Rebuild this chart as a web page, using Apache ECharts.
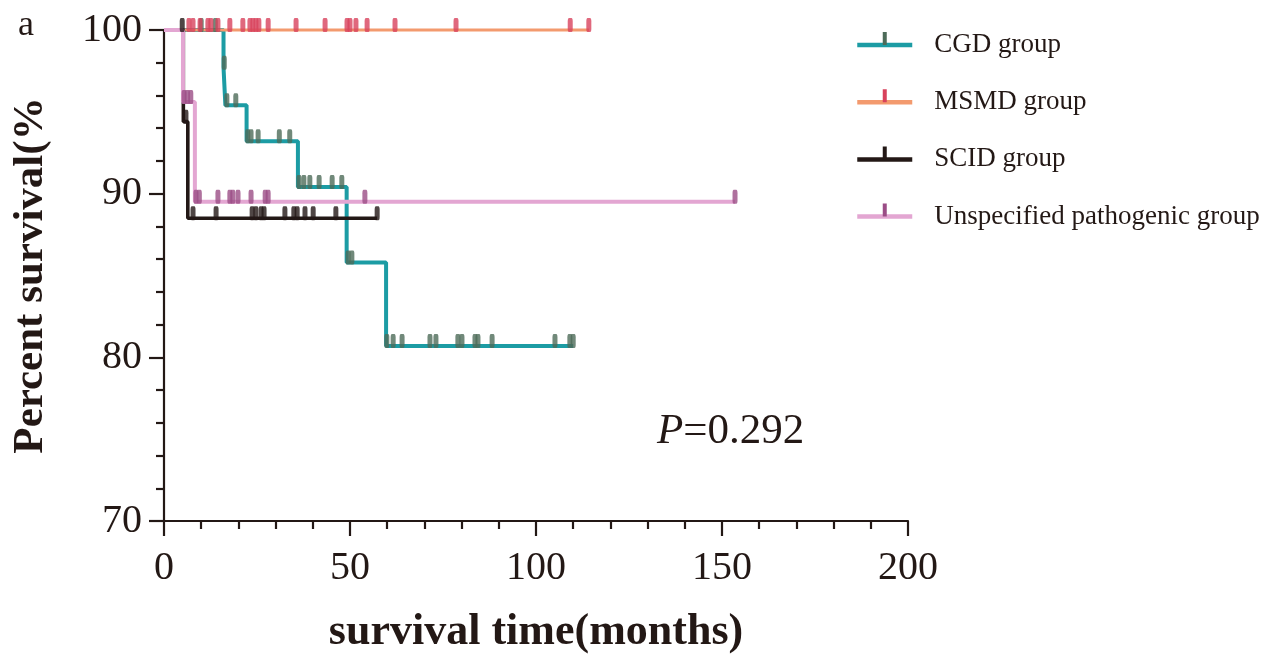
<!DOCTYPE html>
<html><head><meta charset="utf-8">
<script src="https://cdn.jsdelivr.net/npm/echarts@6/dist/echarts.min.js"></script>
<style>html,body{margin:0;padding:0;background:#fff}#c{width:1279px;height:660px}</style>
</head><body><div id="c"></div>
<script>
// ---- data ----
const groupNames = ['CGD group', 'MSMD group', 'SCID group', 'Unspecified pathogenic group'];
const xTickValues = [0, 50, 100, 150, 200];
const yTickValues = [70, 80, 90, 100];

// Kaplan-Meier steps: [months, percent survival]
const cgdSteps = [[0,100],[16,97.7],[16.5,95.4],[22.2,93.2],[36,90.4],[49.1,85.8],[59.7,80.7],[110,80.7]];
const msmdSteps = [[0,100],[114.3,100]];
const scidSteps = [[0,100],[5.2,94.4],[6.4,88.5],[57.3,88.5]];
const unspecSteps = [[0,100],[5.1,95.6],[8.3,89.5],[153.5,89.5]];

// censored observations: [months, percent survival]
const cgdCensor = [[10,100],[13.8,100],[16.2,97.7],[16.9,95.4],[19.3,95.4],[22.5,93.2],[23.4,93.2],[25.3,93.2],[31,93.2],[33.8,93.2],[36.3,90.4],[37.6,90.4],[39.2,90.4],[41.7,90.4],[45.2,90.4],[47.8,90.4],[49.5,85.8],[50.5,85.8],[59.9,80.7],[61.6,80.7],[64,80.7],[71.5,80.7],[73.1,80.7],[79,80.7],[80.1,80.7],[83.6,80.7],[84.4,80.7],[88.2,80.7],[105.1,80.7],[109.1,80.7],[110,80.7]];
const msmdCensor = [[6.7,100],[7.8,100],[9.7,100],[11.8,100],[12.6,100],[14.5,100],[17.7,100],[21.2,100],[23.1,100],[23.9,100],[24.7,100],[25.5,100],[28,100],[35.5,100],[43.3,100],[49.2,100],[50,100],[51.6,100],[54.6,100],[62.1,100],[78.5,100],[109.2,100],[114.2,100]];
const scidCensor = [[4.9,100],[5.9,94.4],[7.8,88.5],[14,88.5],[23.7,88.5],[24.7,88.5],[26.1,88.5],[26.9,88.5],[32.5,88.5],[34.9,88.5],[35.8,88.5],[37.9,88.5],[40.1,88.5],[46.2,88.5],[57.3,88.5]];
const unspecCensor = [[5.4,95.6],[6.3,95.6],[7.2,95.6],[8.6,89.5],[9.5,89.5],[14.5,89.5],[17.7,89.5],[18.5,89.5],[19.9,89.5],[23.4,89.5],[27.2,89.5],[28,89.5],[54,89.5],[153.5,89.5]];

// ---- styling ----
const FONT = 'Liberation Serif';
const INK = '#231815';
const lineColors = ['#1c9ca4', '#f39a6e', '#231816', '#e3a6d2'];
const markColors = ['#4d6b59', '#d8425c', '#231816', '#9b4d86'];
const lineWidths = [4, 3.2, 3.6, 4];
const tickIcon = 'path://M11 0H15V13H11Z M0 25.99H0.01V26H0Z M25.99 25.99H26V26H25.99Z';

const stepsAll = [cgdSteps, msmdSteps, scidSteps, unspecSteps];
const censorAll = [cgdCensor, msmdCensor, scidCensor, unspecCensor];

const series = [];
groupNames.forEach((name, i) => {
  series.push({
    type: 'line', name, data: stepsAll[i], step: 'end',
    showSymbol: false, symbol: tickIcon,
    lineStyle: { color: lineColors[i], width: lineWidths[i] },
    itemStyle: { color: markColors[i], borderWidth: 0 },
    clip: false, silent: true, z: 2
  });
});
groupNames.forEach((name, i) => {
  series.push({
    type: 'scatter', name, data: censorAll[i],
    symbol: 'roundRect', symbolSize: [5, 14], symbolOffset: [0, -5],
    itemStyle: { color: markColors[i] },
    clip: false, silent: true, z: 3
  });
});

const chart = echarts.init(document.getElementById('c'));
chart.setOption({
  animation: false,
  backgroundColor: '#ffffff',
  grid: { left: 164, right: 371, top: 30, bottom: 138, containLabel: false },
  xAxis: {
    type: 'value',
    min: xTickValues[0], max: xTickValues[xTickValues.length - 1],
    interval: xTickValues[1] - xTickValues[0],
    name: 'survival time(months)', nameLocation: 'middle', nameGap: 90,
    nameTextStyle: { fontFamily: FONT, fontWeight: 'bold', fontSize: 44, color: INK },
    axisLine: { lineStyle: { color: INK, width: 2.2 } },
    axisTick: { length: 15, lineStyle: { color: INK, width: 2.2 } },
    minorTick: { show: true, splitNumber: 5, length: 8, lineStyle: { color: INK, width: 2.2 } },
    axisLabel: { fontFamily: FONT, fontSize: 40, color: INK, margin: 27 },
    splitLine: { show: false }
  },
  yAxis: {
    type: 'value',
    min: yTickValues[0], max: yTickValues[yTickValues.length - 1],
    interval: yTickValues[1] - yTickValues[0],
    name: 'Percent survival(%', nameLocation: 'middle', nameGap: 112, nameRotate: 90,
    nameTextStyle: { fontFamily: FONT, fontWeight: 'bold', fontSize: 43, color: INK },
    axisLine: { show: true, lineStyle: { color: INK, width: 2.2 } },
    axisTick: { show: true, length: 15, lineStyle: { color: INK, width: 2.2 } },
    minorTick: { show: true, splitNumber: 5, length: 8, lineStyle: { color: INK, width: 2.2 } },
    axisLabel: { fontFamily: FONT, fontSize: 40, color: INK, margin: 22 },
    splitLine: { show: false }
  },
  legend: {
    data: groupNames,
    orient: 'vertical', left: 850, top: 26.5,
    itemWidth: 55, itemHeight: 32.5, itemGap: 30.2,
    lineStyle: { width: 4.5 },
    itemStyle: { borderWidth: 0 },
    textStyle: { fontFamily: FONT, fontSize: 27, color: INK, padding: [0, 0, 0, 17] },
    selectedMode: false
  },
  graphic: [
    { type: 'text', left: 18, top: 8, style: { text: 'a', fontFamily: FONT, fontSize: 36, fill: INK } },
    { type: 'text', left: 657, top: 410, style: {
        text: '{i|P}=0.292', fontFamily: FONT, fontSize: 43, fill: INK,
        rich: { i: { fontStyle: 'italic', fontFamily: FONT, fontSize: 43, fill: INK } }
    } }
  ],
  series
});
</script>
</body></html>
